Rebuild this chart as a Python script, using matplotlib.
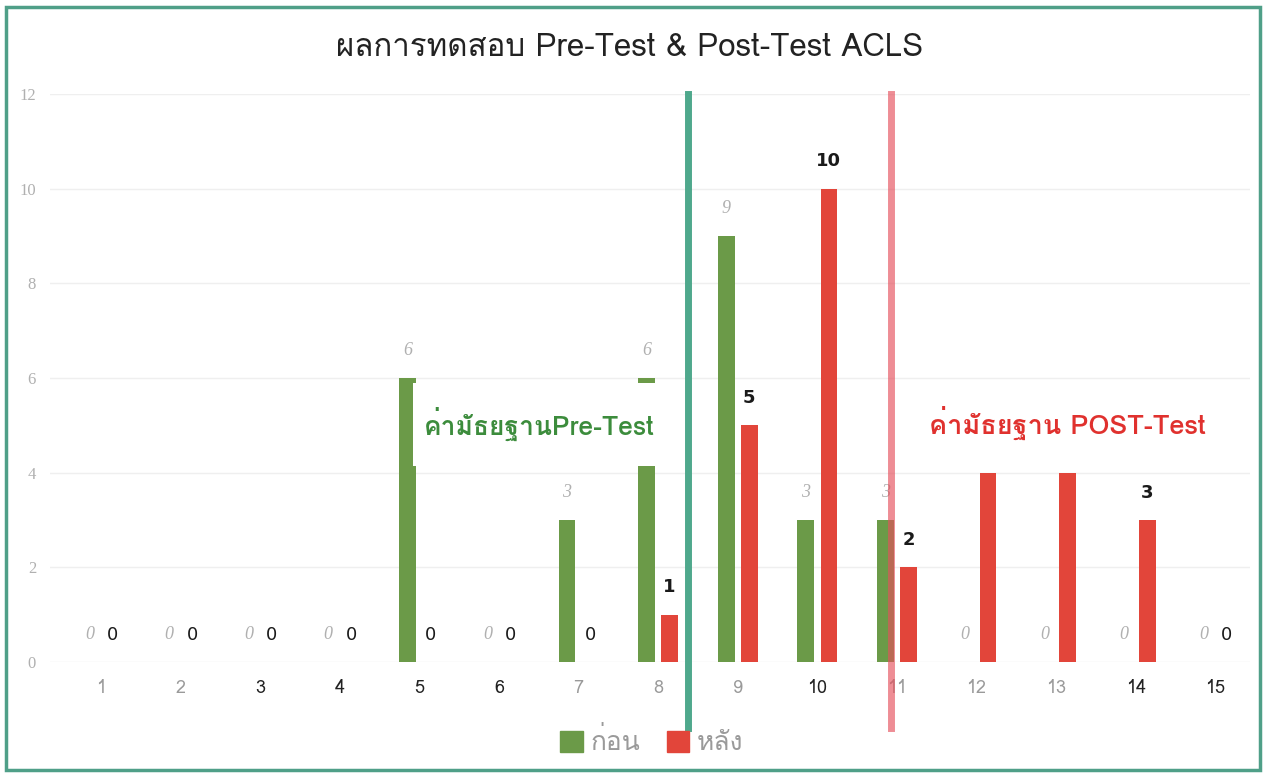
import numpy as np
import matplotlib
matplotlib.use("Agg")
import matplotlib.pyplot as plt
from matplotlib import font_manager
from matplotlib.patches import Rectangle, Patch

# data (score -> number of people)
categories = list(range(1, 16))
before = [0, 0, 0, 0, 6, 0, 3, 6, 9, 3, 3, 0, 0, 0, 0]
after = [0, 0, 0, 0, 0, 0, 0, 1, 5, 10, 2, 4, 4, 3, 0]
after_hidden_labels = [12, 13]   # labels not printed in the original
median_pre = 8.38
median_post = 10.93

title = "ผลการทดสอบ Pre-Test & Post-Test ACLS"
legend_labels = ["ก่อน", "หลัง"]
pre_note = "ค่ามัธยฐานPre-Test"
post_note = "ค่ามัธยฐาน POST-Test"

GREEN = "#6b9a48"
RED = "#e2453a"


def find_thai_font():
    # look for any installed font that has Thai glyphs
    try:
        from fontTools.ttLib import TTFont
    except ImportError:
        return None
    for f in font_manager.fontManager.ttflist:
        try:
            tt = TTFont(f.fname, fontNumber=0, lazy=True)
            cmap = tt.getBestCmap()
            if cmap and 0x0E01 in cmap:
                return f.name
        except Exception:
            continue
    return None


thai = find_thai_font()
fams = [thai, "DejaVu Sans"] if thai else ["DejaVu Sans"]
plt.rcParams["font.family"] = fams

fig = plt.figure(figsize=(12.66, 7.73), dpi=100)
ax = fig.add_axes([0.0395, 0.1436, 0.9475, 0.7348])

x = np.array(categories, dtype=float)
w = 0.21
off = 0.145
ax.bar(x - off, before, width=w, color=GREEN, zorder=2)
ax.bar(x + off, after, width=w, color=RED, zorder=2)

ax.set_xlim(0.36, 15.43)
ax.set_ylim(0, 12)
ax.set_yticks(range(0, 13, 2))
ax.grid(axis="y", color="#efefef", lw=1, zorder=0)
ax.set_axisbelow(True)
for s in ax.spines.values():
    s.set_visible(False)
ax.tick_params(axis="x", length=0, pad=12, labelsize=13)
ax.tick_params(axis="y", length=0, pad=10, labelsize=12, labelcolor="#b0b0b0")
for t in ax.get_yticklabels():
    t.set_family("Liberation Serif")

ax.set_xticks(x)
ax.set_xticklabels([str(c) for c in categories])
dark_ticks = [3, 4, 5, 6, 10, 14, 15]
for c, t in zip(categories, ax.get_xticklabels()):
    t.set_color("#222222" if c in dark_ticks else "#9a9a9a")

# value labels
for xi, v in zip(x, before):
    ax.text(xi - off, v + 0.58, str(v), ha="center", va="center", fontsize=13,
            style="italic", family="Liberation Serif", color="#b0b0b0", zorder=6)
for c, xi, v in zip(categories, x, after):
    if c in after_hidden_labels:
        continue
    ax.text(xi + off, v + 0.58, str(v), ha="center", va="center", fontsize=13,
            family="DejaVu Sans", fontweight="bold" if v > 0 else "normal",
            color="#1a1a1a", zorder=6)

# median markers, running below the axis
ax.axvline(median_pre, ymin=-0.116, ymax=1, color="#4fa88c", lw=5, clip_on=False, zorder=7)
ax.axvline(median_post, ymin=-0.116, ymax=1, color="#e5505c", lw=5, alpha=0.65,
           clip_on=False, zorder=7)

# white box behind the pre-test note hides part of bars 5 and 8
ax.add_patch(Rectangle((4.92, 4.14), 3.08, 1.76, facecolor="white", edgecolor="none", zorder=4))
ax.text(6.5, 5.02, pre_note, ha="center", va="center", fontsize=19, fontweight="bold",
        color="#3c8c3c", zorder=5)
ax.text(13.14, 5.05, post_note, ha="center", va="center", fontsize=19.5,
        fontweight="bold", color="#e0312e", zorder=5)

fig.text(0.497, 1 - 48 / 773, title, ha="center", va="center", fontsize=22.5, color="#222222")

handles = [Patch(color=GREEN, label=legend_labels[0]), Patch(color=RED, label=legend_labels[1])]
leg = fig.legend(handles=handles, loc="center", bbox_to_anchor=(0.515, 0.041), ncol=2,
                 frameon=False, handlelength=0.85, handleheight=0.85, handletextpad=0.3,
                 columnspacing=1.0, fontsize=19)
for t in leg.get_texts():
    t.set_color("#9a9a9a")

fig.patches.append(Rectangle((0.0047, 0.0039), 0.9906, 0.9871, transform=fig.transFigure,
                             fill=False, edgecolor="#4f9f88", lw=2.5))

fig.savefig("out.png", dpi=100, facecolor="white")
